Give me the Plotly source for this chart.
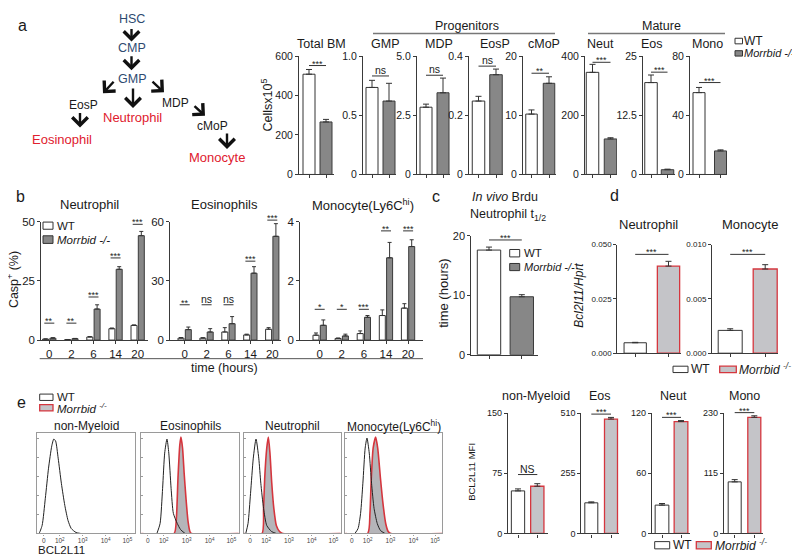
import plotly.graph_objects as go

W, H = 800, 554
FONT = "Liberation Sans, Arial, Helvetica, sans-serif"

# ======================= DATA =======================
groups = ["WT", "Morrbid -/-"]

# (a) cell numbers (Cells x10^5)
a_titles = ["Total BM", "GMP", "MDP", "EosP", "cMoP", "Neut", "Eos", "Mono"]
a_wt = [508, 0.735, 2.84, 0.248, 10.2, 345, 19.4, 55.3]
a_wt_sem = [24, 0.06, 0.13, 0.016, 0.7, 27, 1.6, 3.5]
a_ko = [266, 0.62, 3.45, 0.337, 15.4, 120, 1.0, 15.9]
a_ko_sem = [13, 0.15, 0.62, 0.019, 1.1, 4, 0.12, 0.7]
a_sig = ["***", "ns", "ns", "ns", "**", "***", "***", "***"]
a_ymax = [600, 1.0, 5.0, 0.4, 20, 400, 25, 80]
a_tickvals = [[0, 200, 400, 600], [0, 0.5, 1.0], [0, 2.5, 5.0], [0, 0.2, 0.4],
              [0, 10, 20], [0, 200, 400], [0, 12.5, 25], [0, 40, 80]]
a_ticktext = [["0", "200", "400", "600"], ["0", "0.5", "1.0"], ["0", "2.5", "5.0"],
              ["0", "0.2", "0.4"], ["0", "10", "20"], ["0", "200", "400"],
              ["0", "12.5", "25"], ["0", "40", "80"]]

# (b) Casp+ (%) over time
b_hours = ["0", "2", "6", "14", "20"]
b_titles = ["Neutrophil", "Eosinophils", "Monocyte(Ly6C<sup>hi</sup>)"]
b_wt = [[0.4, 0.2, 1.3, 4.8, 6.2], [1.0, 1.0, 4.1, 2.6, 5.5], [0.165, 0.055, 0.22, 0.83, 1.08]]
b_wt_sem = [[0.1, 0.05, 0.2, 0.3, 0.2], [0.3, 0.2, 2.2, 0.4, 0.8], [0.075, 0.015, 0.09, 0.19, 0.15]]
b_ko = [[0.8, 0.6, 13.1, 29.9, 44.1], [5.3, 4.1, 8.3, 33.9, 52.6], [0.5, 0.14, 0.77, 2.78, 3.16]]
b_ko_sem = [[0.2, 0.1, 1.8, 1.1, 1.8], [1.3, 1.7, 3.6, 3.3, 6.4], [0.18, 0.06, 0.06, 0.52, 0.23]]
b_sig = [["**", "**", "***", "***", "***"], ["**", "ns", "ns", "***", "***"], ["*", "*", "***", "**", "***"]]
b_ymax = [50, 60, 4]
b_tickvals = [[0, 25, 50], [0, 30, 60], [0, 2, 4]]

# (c) neutrophil half-life (hours)
c_vals = [17.6, 9.75]
c_sem = [0.5, 0.35]
c_sig = "***"

# (d) Bcl2l11/Hprt
d_titles = ["Neutrophil", "Monocyte"]
d_wt = [0.0048, 0.0021]
d_wt_sem = [0.0002, 0.00015]
d_ko = [0.0401, 0.00775]
d_ko_sem = [0.0022, 0.0004]
d_ymax = [0.05, 0.01]
d_tickvals = [[0, 0.025, 0.05], [0, 0.005, 0.01]]
d_ticktext = [["0.000", "0.025", "0.050"], ["0.000", "0.005", "0.010"]]

# (e) BCL2L11 histograms (x in display units of the biexponential axis, y = fraction of max)
e_hist_titles = ["non-Myeloid", "Eosinophils", "Neutrophil", "Monocyte(Ly6C<sup>hi</sup>)"]
hist_ticktext = ["0", "10<sup>2</sup>", "10<sup>3</sup>", "10<sup>4</sup>", "10<sup>5</sup>"]
hist_wt_x = [
    [-0.28, -0.21, -0.07, 0.07, 0.21, 0.35, 0.44, 0.52, 0.63, 0.77, 0.92, 1.06, 1.20, 1.41, 1.62],
    [0.40, 0.54, 0.65, 0.74, 0.84, 0.92, 1.02, 1.12, 1.29, 1.43, 1.63],
    [-0.19, -0.09, 0.02, 0.14, 0.26, 0.38, 0.47, 0.59, 0.73, 0.94, 1.15],
    [0.14, 0.28, 0.39, 0.49, 0.59, 0.67, 0.77, 0.87, 0.98, 1.12, 1.26, 1.46],
]
hist_wt_y = [
    [0, 0, 0.08, 0.35, 0.65, 0.87, 0.94, 0.92, 0.75, 0.5, 0.28, 0.13, 0.05, 0.01, 0],
    [0, 0.1, 0.45, 0.8, 0.94, 0.8, 0.45, 0.2, 0.1, 0.04, 0],
    [0, 0.1, 0.4, 0.75, 0.94, 0.75, 0.5, 0.25, 0.08, 0.02, 0],
    [0, 0.05, 0.2, 0.5, 0.85, 0.95, 0.8, 0.5, 0.25, 0.1, 0.03, 0],
]
hist_ko_x = [
    [],
    [-0.28, 1.15, 1.25, 1.32, 1.40, 1.45, 1.52, 1.59, 1.67, 1.76, 1.84, 1.9, 3.97],
    [-0.28, 0.52, 0.59, 0.64, 0.73, 0.80, 0.87, 0.95, 1.04, 1.15, 1.29, 1.43, 3.97],
    [-0.28, 0.7, 0.8, 0.85, 0.94, 1.05, 1.14, 1.26, 1.37, 1.49, 1.6, 1.71, 3.97],
]
hist_ko_y = [
    [],
    [0, 0, 0.15, 0.55, 0.88, 0.96, 0.85, 0.6, 0.35, 0.12, 0.02, 0, 0],
    [0, 0, 0.25, 0.55, 0.85, 0.96, 0.8, 0.5, 0.25, 0.08, 0.02, 0, 0],
    [0, 0, 0.2, 0.5, 0.85, 0.96, 0.85, 0.55, 0.3, 0.1, 0.02, 0, 0],
]

# (e) BCL2L11 MFI
e_titles = ["non-Myeloid", "Eos", "Neut", "Mono"]
e_wt = [53.1, 130, 28.3, 98.7]
e_wt_sem = [2.5, 4, 1.6, 4.3]
e_ko = [58.9, 485, 111.6, 222]
e_ko_sem = [3.2, 7, 1.0, 3]
e_sig = ["NS", "***", "***", "***"]
e_ymax = [150, 510, 120, 230]
e_tickvals = [[0, 75, 150], [0, 255, 510], [0, 60, 120], [0, 115, 230]]

# ======================= STYLE / LAYOUT =======================
BLUE = "#2e4a70"
RED = "#e0202e"
KO_DARK = "#878787"
KO_LIGHT = "#c4c4c8"
KO_EDGE = "#d5363e"
AX = "#3a3a3a"
TXT = "#1a1a1a"


def px(x):
    return x / W


def py(y):
    return 1 - y / H


fig = go.Figure()
layout = dict(width=W, height=H, margin=dict(l=0, r=0, t=0, b=0),
              paper_bgcolor="white", plot_bgcolor="rgba(0,0,0,0)",
              showlegend=False, barmode="overlay",
              font=dict(family=FONT, size=11, color=TXT))
shapes = []
annotations = []
count = [0]


def new_axes(x0, x1, y_top, y_zero, xrange, yrange, xkw=None, ykw=None):
    count[0] += 1
    n = count[0]
    s = "" if n == 1 else str(n)
    base = dict(showgrid=False, zeroline=False, showline=True, linecolor=AX, linewidth=1.1,
                ticks="outside", ticklen=3, tickwidth=1, tickcolor=AX, fixedrange=True,
                tickfont=dict(family=FONT, size=10.5, color=TXT))
    xa = dict(base, domain=[px(x0), px(x1)], range=xrange, anchor="y" + s)
    ya = dict(base, domain=[py(y_zero), py(y_top)], range=yrange, anchor="x" + s)
    if xkw:
        xa.update(xkw)
    if ykw:
        ya.update(ykw)
    layout["xaxis" + s] = xa
    layout["yaxis" + s] = ya
    return "x" + s, "y" + s


def T(x, y, s, size=12, color=TXT, xa="center", ya="middle", angle=0):
    annotations.append(dict(x=px(x), y=py(y), xref="paper", yref="paper", text=s,
                            showarrow=False, font=dict(size=size, color=color, family=FONT),
                            xanchor=xa, yanchor=ya, textangle=angle, borderpad=0))


def R(x0, y0, x1, y1, fill, line, lw=1):
    shapes.append(dict(type="rect", xref="paper", yref="paper", x0=px(x0), x1=px(x1),
                       y0=py(y1), y1=py(y0), fillcolor=fill, line=dict(color=line, width=lw)))


def L(x0, y0, x1, y1, color="#333", width=1):
    shapes.append(dict(type="line", xref="paper", yref="paper", x0=px(x0), x1=px(x1),
                       y0=py(y0), y1=py(y1), line=dict(color=color, width=width)))


def A(tx, ty, hx, hy):
    annotations.append(dict(x=px(hx), y=py(hy), xref="paper", yref="paper", text="",
                            ax=tx - hx, ay=ty - hy, axref="pixel", ayref="pixel",
                            showarrow=True, arrowhead=4, arrowsize=1.25, arrowwidth=2.4,
                            arrowcolor="#111"))


def sig_mark(xc0, xc1, ly, label, size=9):
    L(xc0, ly, xc1, ly, "#333", 1)
    ys = -4 if "*" in label else -1
    fs = size if "*" in label else size + 1.5
    annotations.append(dict(x=px((xc0 + xc1) / 2), y=py(ly), xref="paper", yref="paper",
                            text=label, showarrow=False, font=dict(size=fs, family=FONT, color="#222"),
                            xanchor="center", yanchor="bottom", yshift=ys, borderpad=0))


def two_bars(geo, y_top, y_zero, ymax, tv, tt, vals, sems, ko_fill, ko_line, tick_size,
             sig, sig_y, sig_size=9, ko_lw=1):
    left, c0, c1, right, bw = geo
    unit = c1 - c0
    xr = [(left - c0) / unit, (right - c0) / unit]
    xa, ya = new_axes(left, right, y_top, y_zero, xr, [0, ymax],
                      xkw=dict(type="category", categoryarray=groups, showticklabels=False),
                      ykw=dict(tickvals=tv, ticktext=tt,
                               tickfont=dict(family=FONT, size=tick_size, color=TXT)))
    fills = ["white", ko_fill]
    lines = ["#333", ko_line]
    lws = [1, ko_lw]
    for i in range(2):
        fig.add_trace(go.Bar(x=[groups[i]], y=[vals[i]], width=bw / unit, xaxis=xa, yaxis=ya,
                             marker=dict(color=fills[i], line=dict(color=lines[i], width=lws[i])),
                             error_y=dict(type="data", array=[sems[i]], arrayminus=[0],
                                          symmetric=False, color="#333", thickness=1, width=3)))
    ly = y_zero - sig_y / ymax * (y_zero - y_top)
    sig_mark(c0, c1, ly, sig, sig_size)


# ---------------- panel a: hierarchy ----------------
T(14, 12, "a", 16)
T(123.5, 5.5, "HSC", 12.5, BLUE)
A(123.5, 14, 123.5, 28)
T(123.5, 35, "CMP", 12.5, BLUE)
A(123.5, 42, 123.5, 57.5)
T(123.5, 66, "GMP", 12.5, BLUE)
A(107, 68, 95, 81)
A(125, 75, 125, 96)
A(143, 68, 156, 80)
T(75, 93, "EosP", 12)
T(124, 106, "Neutrophil", 13, RED)
T(167.5, 91, "MDP", 12)
A(72, 100, 72, 116)
A(185, 93, 197, 104)
T(54, 128, "Eosinophil", 13, RED)
T(205, 114.5, "cMoP", 12)
A(219, 121, 219, 138)
T(209, 147, "Monocyte", 13, RED)

# ---------------- panel a: bars ----------------
a_geo = [(291, 301, 318, 326, 12), (355, 364, 381, 388, 12), (409, 418, 435, 442, 12),
         (461, 470.5, 488, 495, 12.5), (515, 523.5, 541, 548, 11.5),
         (577, 584.5, 602.5, 609, 12.5), (635, 643, 659.5, 667, 12.5),
         (682, 691, 712.5, 719, 12)]
a_title_x = [313, 377, 430.7, 486.7, 535.7, 592, 644, 699]
a_sig_y = [552, 0.832, 4.19, 0.366, 17.1, 379, 21.6, 62.1]
for i in range(8):
    two_bars(a_geo[i], 43, 164, a_ymax[i], a_tickvals[i], a_ticktext[i],
             [a_wt[i], a_ko[i]], [a_wt_sem[i], a_ko_sem[i]], KO_DARK, "#3a3a3a", 10.5,
             a_sig[i], a_sig_y[i])
    T(a_title_x[i], 31, a_titles[i], 12.5)
T(258.5, 93, "Cellsx10<sup>5</sup>", 12.5, angle=-90)
T(459, 12.5, "Progenitors", 12.5)
L(365, 20, 547, 20, "#777", 1.5)
T(653, 12.5, "Mature", 12.5)
L(580, 20, 717, 20, "#777", 1.5)
R(727, 24.8, 734.5, 30.5, "white", "#333")
T(735, 27.5, "WT", 12, xa="left")
R(727, 37.5, 734.5, 43, KO_DARK, "#333")
T(735, 40.3, "<i>Morrbid -/-</i>", 11, xa="left")

# ---------------- panel b ----------------
T(12, 187, "b", 16)
b_geo = [(33.3, 41.3, 22.1, 140), (162.3, 176.7, 21.9, 273), (292.3, 311.7, 22.1, 415)]
b_title_x = [81.7, 216.7, 355]
b_sig_y = [[7.15, 7.15, 18.2, 34.7, 48.9], [17.9, 17.9, 17.9, 40, 60.8],
           [1.04, 1.04, 1.04, 3.69, 3.69]]
B_TOP, B_ZERO = 212.3, 333.3
for k in range(3):
    left, cf, sp, right = b_geo[k]
    xr = [(left - cf) / sp, (right - cf) / sp]
    xa, ya = new_axes(left, right, B_TOP, B_ZERO, xr, [0, b_ymax[k]],
                      xkw=dict(type="category", categoryarray=b_hours,
                               tickfont=dict(family=FONT, size=11.5, color=TXT)),
                      ykw=dict(tickvals=b_tickvals[k],
                               tickfont=dict(family=FONT, size=11.5, color=TXT)))
    fig.add_trace(go.Bar(x=b_hours, y=b_wt[k], width=6 / sp, offset=-6.7 / sp, xaxis=xa, yaxis=ya,
                         marker=dict(color="white", line=dict(color="#333", width=1)),
                         error_y=dict(type="data", array=b_wt_sem[k], arrayminus=[0] * 5,
                                      symmetric=False, color="#333", thickness=1, width=2)))
    fig.add_trace(go.Bar(x=b_hours, y=b_ko[k], width=6 / sp, offset=0.6 / sp, xaxis=xa, yaxis=ya,
                         marker=dict(color=KO_DARK, line=dict(color="#3a3a3a", width=1)),
                         error_y=dict(type="data", array=b_ko_sem[k], arrayminus=[0] * 5,
                                      symmetric=False, color="#333", thickness=1, width=2)))
    for j in range(5):
        c = cf + j * sp
        ly = B_ZERO - b_sig_y[k][j] / b_ymax[k] * (B_ZERO - B_TOP)
        sig_mark(c - 5, c + 5, ly, b_sig[k][j], 9)
    T(b_title_x[k], 195, b_titles[k], 13)
T(5, 272, "Casp<sup>+</sup> (%)", 12.5, angle=-90)
L(31.7, 352.3, 415, 352.3, "#555", 1)
T(216.7, 362, "time (hours)", 12.5)
R(35, 212.7, 45, 220, "white", "#333")
T(48, 216.5, "WT", 11.5, xa="left")
R(35, 226.7, 45, 234.5, KO_DARK, "#333")
T(48, 230.8, "<i>Morrbid -/-</i>", 11.5, xa="left")

# ---------------- panel c ----------------
T(428, 187, "c", 16)
T(497, 187.5, "<i>In vivo</i> Brdu", 12.5)
T(500, 205, "Neutrophil t<sub>1/2</sub>", 12.5)
two_bars((463.3, 481, 513.8, 530, 23.4), 226.7, 348.3, 20, [0, 10, 20], ["0", "10", "20"],
         c_vals, c_sem, KO_DARK, "#3a3a3a", 11, c_sig, 19.3)
T(436, 286, "time (hours)", 13, angle=-90)
R(501.7, 240.7, 511.7, 248.3, "white", "#333")
T(514.5, 244.5, "WT", 11.5, xa="left")
R(501.7, 255, 511.7, 262.3, KO_DARK, "#333")
T(514.5, 258.7, "<i>Morrbid -/-</i>", 11, xa="left")

# ---------------- panel d ----------------
T(606, 186, "d", 16)
d_geo = [(609.3, 627.2, 660.5, 673, 22.3), (704, 722.2, 757.2, 770, 24)]
d_title_x = [640, 741.7]
d_sig_y = [0.0455, 0.0091]
for i in range(2):
    two_bars(d_geo[i], 235.7, 346.7, d_ymax[i], d_tickvals[i], d_ticktext[i],
             [d_wt[i], d_ko[i]], [d_wt_sem[i], d_ko_sem[i]], KO_LIGHT, KO_EDGE, 8,
             "***", d_sig_y[i], 9, ko_lw=1.3)
    T(d_title_x[i], 215, d_titles[i], 13)
T(571, 288, "<i>Bcl2l11/Hprt</i>", 12, angle=-90)
R(665, 360, 680, 366.5, "white", "#333")
T(682, 363.3, "WT", 12, xa="left")
R(711.7, 360, 728.3, 366.5, KO_LIGHT, KO_EDGE, 1.3)
T(730, 363.3, "<i>Morrbid</i> <sup><i>-/-</i></sup>", 12, xa="left")

# ---------------- panel e: histograms ----------------
T(13, 397, "e", 16)
R(31.7, 388.5, 45, 395, "white", "#333")
T(48, 391.5, "WT", 11.5, xa="left")
R(31.7, 399.3, 45, 405.7, KO_LIGHT, KO_EDGE, 1.3)
T(48, 403, "<i>Morrbid</i> <sup><i>-/-</i></sup>", 11.5, xa="left")
hist_geo = [(29.3, 126.7), (133.3, 230.7), (235.7, 332.7), (337.3, 434.3)]
for i in range(4):
    x0, x1 = hist_geo[i]
    xa, ya = new_axes(x0, x1, 428.3, 531, [-0.28, 3.97], [0, 1.0],
                      xkw=dict(tickvals=[0, 0.7, 1.7, 2.7, 3.65], ticktext=hist_ticktext,
                               tickfont=dict(family=FONT, size=6.5, color="#444"),
                               linecolor="#9a9a9a", tickcolor="#9a9a9a", mirror=True, ticklen=1),
                      ykw=dict(tickvals=[0.19, 0.38, 0.57, 0.76, 0.95], showticklabels=False,
                               ticks="inside", ticklen=2, linecolor="#9a9a9a",
                               tickcolor="#9a9a9a", mirror=True))
    if hist_ko_x[i]:
        fig.add_trace(go.Scatter(x=hist_ko_x[i], y=hist_ko_y[i], mode="lines", xaxis=xa, yaxis=ya,
                                 line=dict(color=KO_EDGE, width=1.6, shape="spline", smoothing=0.6),
                                 fill="tozeroy", fillcolor="#b5b5b9"))
    fig.add_trace(go.Scatter(x=hist_wt_x[i], y=hist_wt_y[i], mode="lines", xaxis=xa, yaxis=ya,
                             line=dict(color="#222", width=1, shape="spline", smoothing=0.6)))
    T((x0 + x1) / 2, 421, e_hist_titles[i], 12)
T(29.3, 540.5, "BCL2L11", 11.5, xa="left", ya="top")

# ---------------- panel e: MFI bars ----------------
e_geo = [(500, 510, 529.3, 540, 13.3), (573.3, 583.3, 603, 611, 13),
         (644, 654, 673, 682, 13.7), (716, 726.7, 746.3, 755, 13)]
e_title_x = [528.3, 591.7, 665, 736.7]
e_sig_y = [73.5, 506, 115.8, 231]
for i in range(4):
    two_bars(e_geo[i], 408, 531, e_ymax[i], e_tickvals[i], [str(v) for v in e_tickvals[i]],
             [e_wt[i], e_ko[i]], [e_wt_sem[i], e_ko_sem[i]], KO_LIGHT, KO_EDGE, 9,
             e_sig[i], e_sig_y[i], 9, ko_lw=1.3)
    T(e_title_x[i], 390, e_titles[i], 12.5)
T(464, 468, "BCL2L11 MFI", 9.5, angle=-90)
R(646.7, 539.3, 661.7, 546.7, "white", "#333")
T(664, 543, "WT", 12, xa="left")
R(688.3, 539.3, 703.3, 546.7, KO_LIGHT, KO_EDGE, 1.3)
T(705.7, 543, "<i>Morrbid</i> <sup><i>-/-</i></sup>", 12, xa="left")

layout["shapes"] = shapes
layout["annotations"] = annotations
fig.update_layout(**layout)
fig.write_html("out.html")
